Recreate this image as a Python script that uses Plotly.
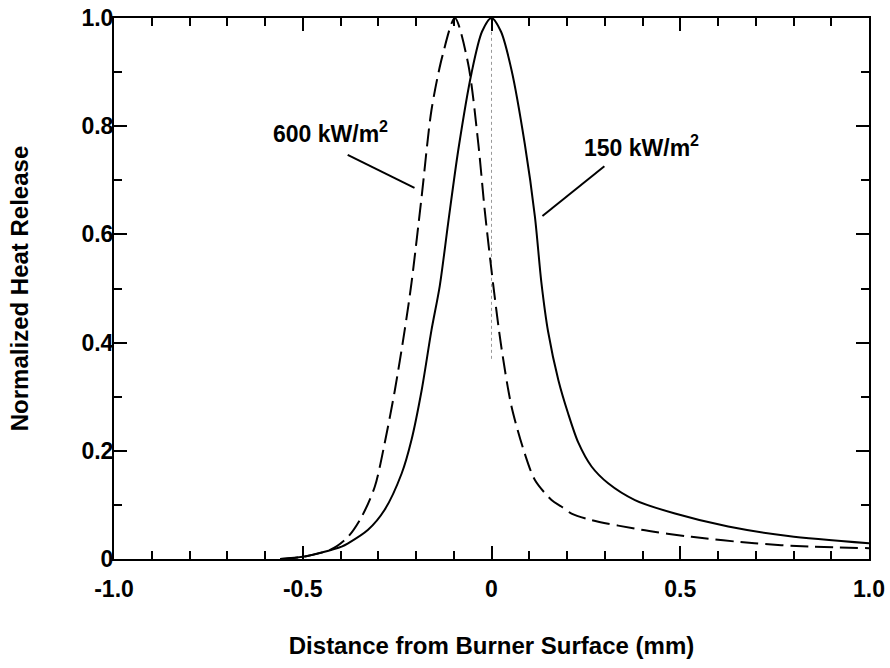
import plotly.graph_objects as go

# 150 kW/m^2 (solid)
x150 = [-0.56, -0.5, -0.45, -0.397, -0.38, -0.327, -0.283, -0.238, -0.212, -0.185, -0.159,
        -0.137, -0.115, -0.088, -0.053, -0.025, 0.0, 0.025, 0.053, 0.088, 0.115, 0.132,
        0.15, 0.177, 0.203, 0.23, 0.265, 0.309, 0.38, 0.486, 0.627, 0.786, 1.0]
y150 = [0.0, 0.004, 0.012, 0.023, 0.029, 0.054, 0.091, 0.158, 0.22, 0.312, 0.423,
        0.505, 0.62, 0.756, 0.898, 0.975, 1.0, 0.975, 0.904, 0.768, 0.633, 0.512,
        0.42, 0.331, 0.269, 0.215, 0.171, 0.14, 0.109, 0.084, 0.06, 0.0425, 0.029]

# 600 kW/m^2 (dashed)
x600 = [-0.56, -0.5, -0.424, -0.38, -0.344, -0.309, -0.283, -0.256, -0.23, -0.212, -0.185,
        -0.159, -0.13, -0.097, -0.062, -0.035, -0.018, 0.004, 0.026, 0.053, 0.088, 0.115,
        0.159, 0.185, 0.212, 0.265, 0.397, 0.53, 0.697, 0.839, 1.0]
y600 = [0.0, 0.004, 0.018, 0.041, 0.078, 0.134, 0.214, 0.312, 0.423, 0.51, 0.67,
        0.83, 0.93, 1.0, 0.916, 0.768, 0.645, 0.51, 0.392, 0.282, 0.195, 0.146,
        0.109, 0.097, 0.084, 0.072, 0.054, 0.041, 0.029, 0.023, 0.02]

# faint dotted reference line at the burner surface
xref = [0.0, 0.0]
yref = [0.37, 1.0]

# labels and leader lines
label600 = "600 kW/m<sup>2</sup>"
label150 = "150 kW/m<sup>2</sup>"
lab600_pos = (-0.585, 0.79)
lab150_pos = (0.24, 0.763)
lead600 = ([-0.381, -0.204], [0.747, 0.686])
lead150 = ([0.299, 0.135], [0.726, 0.634])

xtickvals = [-1.0, -0.5, 0.0, 0.5, 1.0]
xticktext = ["-1.0", "-0.5", "0", "0.5", "1.0"]
ytickvals = [0.0, 0.2, 0.4, 0.6, 0.8, 1.0]
yticktext = ["0", "0.2", "0.4", "0.6", "0.8", "1.0"]

FONT = "Liberation Sans, Arial, sans-serif"

fig = go.Figure()
fig.add_trace(go.Scatter(x=xref, y=yref, mode="lines",
                         line=dict(color="#999999", width=1, dash="dot"), showlegend=False))
fig.add_trace(go.Scatter(x=x150, y=y150, mode="lines", line_shape="spline",
                         line=dict(color="black", width=2, smoothing=0.8), showlegend=False))
fig.add_trace(go.Scatter(x=x600, y=y600, mode="lines", line_shape="spline",
                         line=dict(color="black", width=2, dash="18px,7px", smoothing=0.8),
                         showlegend=False))
for lx, ly in (lead600, lead150):
    fig.add_trace(go.Scatter(x=lx, y=ly, mode="lines",
                             line=dict(color="black", width=2), showlegend=False))

for txt, pos in ((label600, lab600_pos), (label150, lab150_pos)):
    fig.add_annotation(x=pos[0], y=pos[1], text=txt, showarrow=False,
                       xanchor="left", yanchor="middle",
                       font=dict(family=FONT, size=23, color="black", weight="bold"))

axis_common = dict(showline=True, linecolor="black", linewidth=2, mirror="ticks",
                   ticks="inside", ticklen=13, tickwidth=1.5, tickcolor="black",
                   showgrid=False, zeroline=False,
                   tickfont=dict(family=FONT, size=23, color="black", weight="bold"))

fig.update_xaxes(range=[-1.0, 1.0], tickmode="array", tickvals=xtickvals, ticktext=xticktext,
                 minor=dict(tickmode="linear", tick0=0, dtick=0.1, ticks="inside",
                            ticklen=8, tickwidth=1.5, tickcolor="black"),
                 title=dict(text="Distance from Burner Surface (mm)", standoff=37,
                            font=dict(family=FONT, size=24, color="black", weight="bold")),
                 ticklabelstandoff=8, automargin="bottom",
                 **axis_common)
fig.update_yaxes(range=[0.0, 1.0], tickmode="array", tickvals=ytickvals, ticktext=yticktext,
                 minor=dict(tickmode="linear", tick0=0, dtick=0.1, ticks="inside",
                            ticklen=8, tickwidth=1.5, tickcolor="black"),
                 title=dict(text="Normalized Heat Release", standoff=46,
                            font=dict(family=FONT, size=24, color="black", weight="bold")),
                 ticklabelstandoff=-6, automargin="left",
                 **axis_common)

fig.update_layout(width=890, height=668, margin=dict(l=114, r=21, t=18, b=109),
                  paper_bgcolor="white", plot_bgcolor="white")

fig.write_html("out.html")
